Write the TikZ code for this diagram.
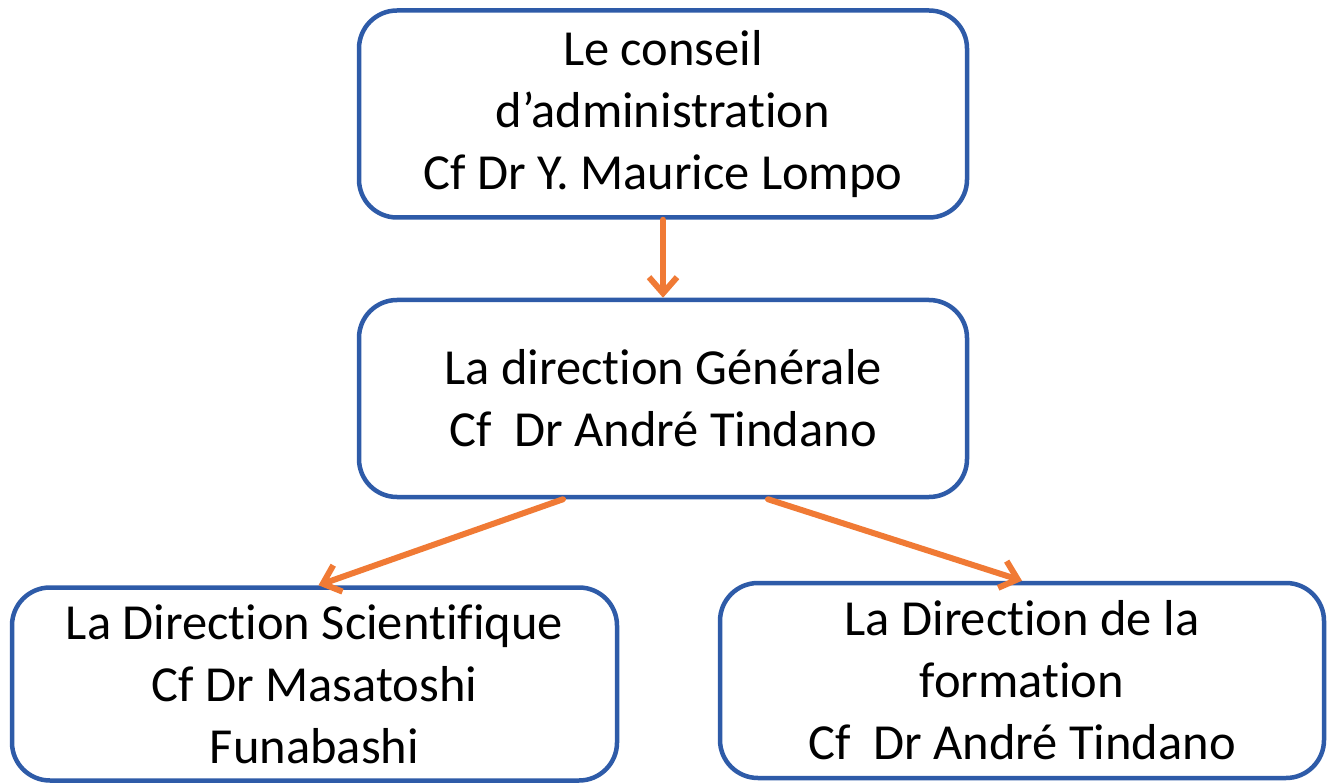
\documentclass[tikz,border=0pt]{standalone}
\usepackage{fontspec}
\setmainfont{Carlito}[Ligatures={NoCommon}]
\usetikzlibrary{arrows.meta}
\definecolor{boxblue}{HTML}{2E5BA8}
\definecolor{arrorange}{HTML}{F07A35}

\begin{document}
\begin{tikzpicture}[x=1pt,y=-1pt,>={Straight Barb[length=16pt,width=28pt]},
  orgbox/.style={draw=boxblue,line width=4.5pt,rounded corners=38pt,align=center,
    font=\fontsize{50.5}{62}\selectfont,inner sep=0pt},
  link/.style={->,draw=arrorange,line width=6pt,line cap=round,line join=round}]
\useasboundingbox (0,0) rectangle (1332,783);

\node[orgbox,minimum width=608pt,minimum height=207pt](conseil) at (663,114)
  {Le conseil\\d'administration\\Cf Dr Y. Maurice Lompo};
\node[orgbox,minimum width=608pt,minimum height=197pt](dg) at (663,398.5)
  {La direction Générale\\Cf\ \ Dr André Tindano};
\node[orgbox,minimum width=605pt,minimum height=193pt](sci) at (314.5,684)
  {La Direction Scientifique\\Cf Dr Masatoshi\\Funabashi};
\node[orgbox,minimum width=604pt,minimum height=195pt](form) at (1022,680.5)
  {La Direction de la\\formation\\Cf\ \ Dr André Tindano};

\draw[link] (conseil) -- (dg);
\draw[link] ([xshift=-100pt]dg.south) -- ([xshift=4pt]sci.north);
\draw[link] ([xshift=105pt]dg.south) -- (form.north);
\end{tikzpicture}
\end{document}
